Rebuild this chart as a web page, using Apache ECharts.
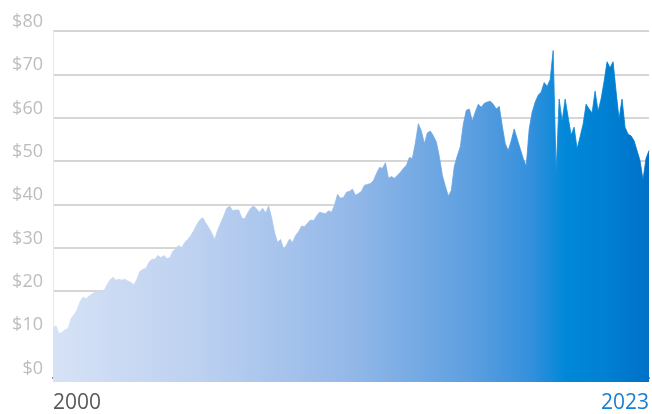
<!DOCTYPE html>
<html>
<head>
<meta charset="utf-8">
<script src="https://cdn.jsdelivr.net/npm/echarts@6/dist/echarts.min.js"></script>
<style>
  html, body { margin: 0; padding: 0; background: #fff; }
  #chart { width: 652px; height: 414px; }
</style>
</head>
<body>
<div id="chart"></div>
<script>
// Share price, evenly spaced in time from 2000 to 2023
const prices = [
  11.5, 12.0, 10.2, 10.4, 11.1, 11.3, 13.6, 14.5, 15.6, 17.5,
  18.6, 18.2, 18.8, 19.3, 19.7, 20.2, 19.7, 20.0, 21.4, 22.5,
  23.2, 22.5, 22.7, 22.5, 22.7, 22.3, 22.0, 21.4, 22.7, 24.5,
  25.0, 25.2, 26.6, 27.3, 27.3, 28.2, 27.7, 28.2, 27.5, 27.7,
  29.1, 29.8, 30.5, 30.0, 31.2, 31.9, 32.8, 33.9, 35.3, 36.4,
  36.9, 35.7, 34.6, 33.4, 31.9, 34.1, 35.7, 37.3, 39.1, 39.6,
  38.5, 38.7, 38.7, 36.9, 36.6, 38.0, 39.1, 39.6, 38.9, 38.2,
  39.1, 38.0, 39.6, 36.9, 33.4, 31.2, 31.9, 29.6, 30.7, 32.0,
  31.2, 32.8, 33.7, 35.0, 34.8, 35.7, 36.4, 36.2, 37.3, 38.2,
  38.0, 37.8, 38.5, 38.2, 39.8, 42.3, 41.4, 41.6, 42.8, 43.0,
  43.5, 42.1, 42.5, 43.0, 44.4, 44.6, 44.8, 45.5, 47.1, 48.5,
  48.3, 49.6, 46.0, 46.4, 46.0, 46.7, 47.4, 48.3, 49.0, 50.8,
  50.6, 54.2, 58.6, 56.9, 54.0, 56.5, 56.9, 55.8, 54.4, 51.0,
  46.7, 44.2, 41.9, 43.2, 48.8, 51.2, 53.3, 58.5, 61.7, 62.0,
  59.2, 61.3, 63.1, 62.4, 63.3, 63.6, 63.8, 63.1, 62.0, 62.6,
  58.1, 54.0, 52.4, 54.7, 57.4, 55.1, 52.8, 50.6, 48.8, 57.4,
  61.3, 63.6, 65.2, 65.9, 68.1, 67.2, 68.8, 75.5, 47.5, 64.3,
  59.2, 64.3, 60.1, 56.0, 57.8, 52.8, 55.6, 58.5, 63.1, 62.0,
  61.1, 66.1, 61.5, 64.3, 68.3, 72.9, 71.5, 72.9, 66.1, 59.7,
  64.3, 57.8, 56.2, 55.8, 54.7, 52.4, 50.1, 45.6, 50.6, 52.4
];
const xTickLabels = ['2000', '2023'];
const yTickValues = [0, 10, 20, 30, 40, 50, 60, 70, 80];

const categories = prices.map((_, i) => i);
const last = prices.length - 1;

const chart = echarts.init(document.getElementById('chart'), null, { renderer: 'canvas' });
const font = '"Open Sans", "Noto Sans", sans-serif';
const gradientStops = [
  { offset: 0, color: '#d6e2f6' },
  { offset: 0.25, color: '#bcd0f0' },
  { offset: 0.5, color: '#93b8e8' },
  { offset: 0.7, color: '#5d9fe0' },
  { offset: 0.8, color: '#3590dc' },
  { offset: 0.86, color: '#0088d8' },
  { offset: 0.93, color: '#0080d2' },
  { offset: 1, color: '#0070c8' }
];

chart.setOption({
  animation: false,
  backgroundColor: '#ffffff',
  grid: { left: 53, right: 2, top: 31, bottom: 28, containLabel: false },
  xAxis: {
    type: 'category',
    data: categories,
    boundaryGap: false,
    axisLine: { show: true, lineStyle: { color: '#6b6b6b', width: 2 } },
    axisTick: { show: false },
    splitLine: { show: false },
    axisLabel: {
      interval: (idx) => idx === 0 || idx === last,
      showMinLabel: true,
      showMaxLabel: true,
      alignMinLabel: 'left',
      alignMaxLabel: 'right',
      margin: 11,
      fontFamily: font,
      fontSize: 21,
      formatter: (v, idx) => idx === 0 ? '{a|' + xTickLabels[0] + '}' : '{b|' + xTickLabels[1] + '}',
      rich: {
        a: { color: '#595959', fontFamily: font, fontSize: 21 },
        b: { color: '#1a7fd0', fontFamily: font, fontSize: 21 }
      }
    }
  },
  yAxis: {
    type: 'value',
    min: -1,
    max: 80,
    axisLine: { show: true, lineStyle: { color: '#e8e8e8', width: 1 } },
    axisTick: { show: false, customValues: yTickValues },
    axisLabel: {
      customValues: yTickValues,
      color: '#bdbdbd',
      fontFamily: font,
      fontSize: 18,
      margin: 10,
      verticalAlign: 'bottom',
      lineHeight: 18,
      formatter: (v) => '$' + v
    },
    splitLine: { show: true, lineStyle: { color: '#d6d6d6', width: 2 } }
  },
  series: [{
    type: 'line',
    data: prices,
    showSymbol: false,
    smooth: false,
    lineStyle: { width: 0.8, color: { type: 'linear', x: 0, y: 0, x2: 1, y2: 0, colorStops: gradientStops } },
    areaStyle: {
      origin: 'start',
      opacity: 1,
      color: { type: 'linear', x: 0, y: 0, x2: 1, y2: 0, colorStops: gradientStops }
    },
    z: 3
  }]
});
</script>
</body>
</html>
